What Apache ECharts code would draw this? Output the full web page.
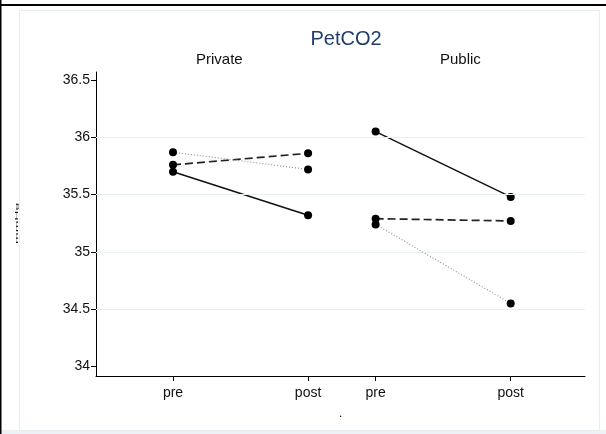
<!DOCTYPE html>
<html>
<head>
<meta charset="utf-8">
<script src="https://cdn.jsdelivr.net/npm/echarts@6/dist/echarts.min.js"></script>
<style>html,body{margin:0;padding:0;background:#fff}#c{width:606px;height:434px}</style>
</head>
<body>
<div id="c"></div>
<script>
// ---- data ----
var xTickValues = [1, 2, 2.5, 3.5];
var xTickLabels = ['pre', 'post', 'pre', 'post'];
var yTickValues = [34, 34.5, 35, 35.5, 36, 36.5];
var gridValues = [34.5, 35, 35.5, 36];
var panels = ['Private', 'Public'];
// order within each array: solid, dashed, dotted
var privatePre  = [35.70, 35.76, 35.87];
var privatePost = [35.32, 35.86, 35.72];
var publicPre   = [36.05, 35.29, 35.24];
var publicPost  = [35.48, 35.27, 34.55];

var styles = [
  {type: 'solid', color: '#111', width: 1.5},
  {type: [8, 4], color: '#222', width: 1.7},
  {type: [1, 2], color: '#8f8f8f', width: 1.1}
];

var chart = echarts.init(document.getElementById('c'), null, {renderer: 'canvas'});
var series = [];
// gridlines
series.push({
  type: 'line', data: [], silent: true,
  markLine: {
    silent: true, symbol: 'none', label: {show: false},
    lineStyle: {color: '#e6eff1', width: 1, type: 'solid'},
    data: gridValues.map(function (v) { return {yAxis: v}; })
  }
});
function addPanel(pre, post, xPre, xPost) {
  for (var i = 0; i < pre.length; i++) {
    series.push({
      type: 'line',
      data: [[xPre, pre[i]], [xPost, post[i]]],
      symbol: 'circle', symbolSize: 8,
      itemStyle: {color: '#000'},
      lineStyle: styles[i],
      z: 3 + i,
      animation: false
    });
  }
}
addPanel(privatePre, privatePost, xTickValues[0], xTickValues[1]);
addPanel(publicPre, publicPost, xTickValues[2], xTickValues[3]);

chart.setOption({
  animation: false,
  backgroundColor: '#fff',
  grid: {left: 96, right: 21, top: 72, bottom: 58},
  title: {
    text: 'PetCO2', left: 341, top: 24, textAlign: 'center',
    textStyle: {fontFamily: 'Liberation Sans', fontSize: 20, fontWeight: 'normal', color: '#213d6d'}
  },
  xAxis: {
    type: 'value', min: 0.43, max: 4.05,
    name: '.', nameLocation: 'middle', nameGap: 31,
    nameTextStyle: {fontFamily: 'Liberation Sans', fontSize: 13, color: '#111'},
    axisLine: {show: true, lineStyle: {color: '#000', width: 1}},
    axisTick: {show: true, length: 5, customValues: xTickValues, lineStyle: {color: '#000'}},
    axisLabel: {
      customValues: xTickValues, margin: 10,
      fontFamily: 'Liberation Sans', fontSize: 14, color: '#111',
      formatter: function (v) { var k = xTickValues.indexOf(v); return k >= 0 ? xTickLabels[k] : ''; }
    },
    splitLine: {show: false}
  },
  yAxis: {
    type: 'value', min: 33.917, max: 36.57,
    axisLine: {show: true, lineStyle: {color: '#000', width: 1}},
    axisTick: {show: true, length: 5, customValues: yTickValues, lineStyle: {color: '#000'}},
    axisLabel: {
      customValues: yTickValues, margin: 6,
      fontFamily: 'Liberation Sans', fontSize: 14, color: '#111',
      formatter: function (v) { return String(v); }
    },
    splitLine: {show: false}
  },
  graphic: [
    {type: 'rect', shape: {x: 0, y: 430, width: 606, height: 4}, style: {fill: '#edf2f5'}, silent: true, z: -10},
    {type: 'rect', shape: {x: 19.5, y: 10.5, width: 580, height: 420}, style: {fill: 'none', stroke: '#e6eef1', lineWidth: 1}, silent: true, z: -5},
    {type: 'rect', shape: {x: 0, y: 4, width: 606, height: 2}, style: {fill: '#000'}, silent: true},
    {type: 'rect', shape: {x: 0, y: 0, width: 1.5, height: 434}, style: {fill: '#000'}, silent: true},
    {type: 'text', left: 196, top: 52, style: {text: panels[0], font: '15px "Liberation Sans"', fill: '#111'}},
    {type: 'text', left: 440, top: 52, style: {text: panels[1], font: '15px "Liberation Sans"', fill: '#111'}},
    {type: 'text', x: 15, y: 244, rotation: Math.PI / 2, scaleY: 0.3,
     style: {text: 'mmHg', font: '14px "Liberation Sans"', fill: '#111'}}
  ],
  series: series
});
</script>
</body>
</html>
